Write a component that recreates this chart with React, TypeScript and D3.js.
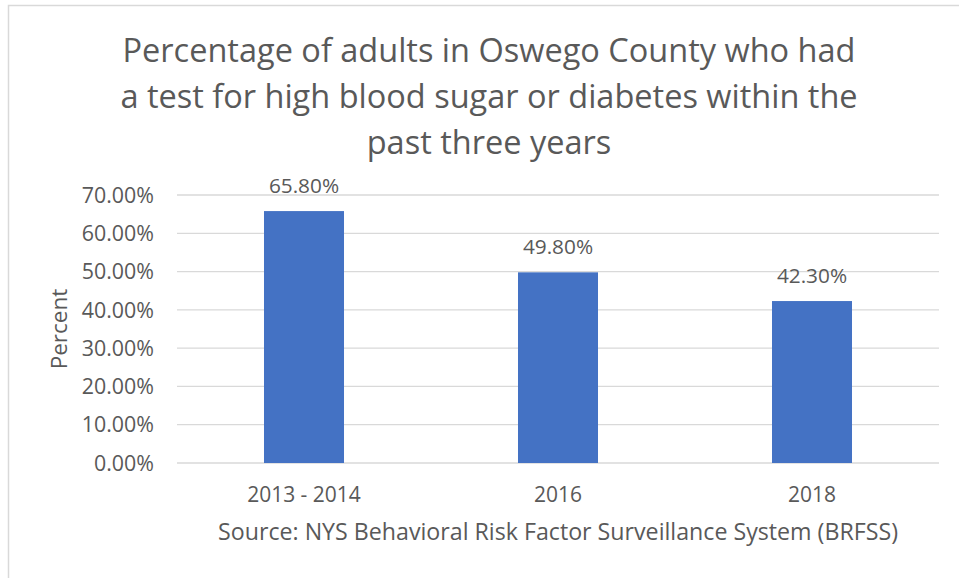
import React from "react";
import * as d3 from "d3";

const categories = ["2013 - 2014", "2016", "2018"];
const values = [65.8, 49.8, 42.3];
const yTicks = [0, 10, 20, 30, 40, 50, 60, 70];
const titleLines = [
  "Percentage of adults in Oswego County who had",
  "a test for high blood sugar or diabetes within the",
  "past three years",
];
const sourceNote = "Source: NYS Behavioral Risk Factor Surveillance System (BRFSS)";
const yAxisTitle = "Percent";

const W = 959;
const H = 578;
const plot = { left: 177, right: 939, top: 195, bottom: 463 };
const font = "'Open Sans', 'Noto Sans', sans-serif";
const textColor = "#595959";

export default function App() {
  const x = d3
    .scaleBand<string>()
    .domain(categories)
    .range([plot.left, plot.right])
    .paddingInner(0.685)
    .paddingOuter(0.3425);
  const y = d3.scaleLinear().domain([0, 70]).range([plot.bottom, plot.top]);
  const fmt = (v: number) => v.toFixed(2) + "%";
  const cx = (plot.left + plot.right) / 2;

  return (
    <svg
      width={W}
      height={H}
      style={{ position: "absolute", left: 0, top: 0, display: "block", background: "#fff" }}
      fontFamily={font}
    >
      <rect x={8.5} y={5.5} width={W + 10} height={H + 10} fill="#fff" stroke="#d9d9d9" strokeWidth={1.5} />

      {titleLines.map((t, i) => (
        <text key={i} x={489} y={62 + i * 46} textAnchor="middle" fontSize={32.5} fill={textColor}>
          {t}
        </text>
      ))}

      {yTicks.map((t) => (
        <g key={t}>
          <line x1={plot.left} x2={plot.right} y1={y(t)} y2={y(t)} stroke="#d9d9d9" strokeWidth={1.3} />
          <text x={154} y={y(t)} dy="0.36em" textAnchor="end" fontSize={21.4} fill={textColor}>
            {fmt(t)}
          </text>
        </g>
      ))}

      <text
        transform={`translate(${67},${(plot.top + plot.bottom) / 2}) rotate(-90)`}
        textAnchor="middle"
        fontSize={22.5}
        fill={textColor}
      >
        {yAxisTitle}
      </text>

      {categories.map((c, i) => {
        const bx = x(c) as number;
        const bw = x.bandwidth();
        return (
          <g key={c}>
            <rect x={bx} y={y(values[i])} width={bw} height={y(0) - y(values[i])} fill="#4472c4" />
            <text x={bx + bw / 2} y={y(values[i]) - 18} textAnchor="middle" fontSize={20.8} fill={textColor}>
              {fmt(values[i])}
            </text>
            <text x={bx + bw / 2} y={502} textAnchor="middle" fontSize={21} fill={textColor}>
              {c}
            </text>
          </g>
        );
      })}

      <text x={cx} y={540} textAnchor="middle" fontSize={23.2} fill={textColor}>
        {sourceNote}
      </text>
    </svg>
  );
}
